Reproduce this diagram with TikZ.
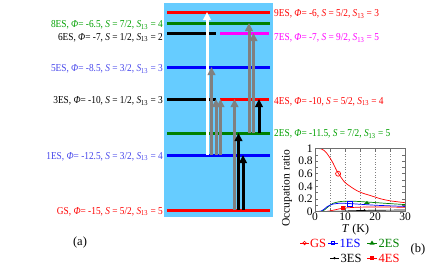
\documentclass[tikz,border=0pt]{standalone}
\usepackage{fontspec}
\setmainfont{Liberation Serif}
\newfontfamily\labfont[FakeStretch=0.88]{Liberation Serif}
\usetikzlibrary{arrows.meta}
\definecolor{skyb}{RGB}{102,204,255}
\definecolor{lvred}{RGB}{255,0,0}
\definecolor{lvgreen}{RGB}{0,128,0}
\definecolor{txgreen}{RGB}{0,160,0}
\definecolor{txblue}{RGB}{70,70,235}
\definecolor{lvblue}{RGB}{0,0,255}
\definecolor{lvmag}{RGB}{255,0,255}
\definecolor{arrgray}{RGB}{128,128,128}
\definecolor{frgray}{RGB}{110,110,110}
\begin{document}
\begin{tikzpicture}[x=1pt,y=-1pt,
  levelline/.style={line width=3pt},
  trans/.style={line width=3pt,-{Triangle[length=8pt,width=7.5pt]}},
  lab/.style={font=\labfont\fontsize{10.6}{12}\selectfont, inner sep=0pt},
  tick/.style={font=\fontsize{11.5}{12}\selectfont, inner sep=0pt},
  leg/.style={font=\fontsize{12.5}{14}\selectfont, inner sep=0pt, anchor=west},
]
\useasboundingbox (0,0) rectangle (436,274);
\fill[skyb] (164,3) rectangle (273,217);
% level coordinates
\coordinate (L9a) at (167,12);  \coordinate (L9b) at (270,12);
\coordinate (L8a) at (167,23);  \coordinate (L8b) at (270,23);
\coordinate (L6a) at (167,33);  \coordinate (L6b) at (216,33);
\coordinate (L7a) at (220,33);  \coordinate (L7b) at (269,33);
\coordinate (L5a) at (167,67);  \coordinate (L5b) at (270,67);
\coordinate (L3a) at (167,99);  \coordinate (L3b) at (216,99);
\coordinate (L4a) at (220,99);  \coordinate (L4b) at (269,99);
\coordinate (L2a) at (167,133); \coordinate (L2b) at (270,133);
\coordinate (L1a) at (167,155); \coordinate (L1b) at (270,155);
\coordinate (L0a) at (167,210); \coordinate (L0b) at (270,210);
\draw[levelline,lvred] (L9a) -- (L9b);
\draw[levelline,lvgreen] (L8a) -- (L8b);
\draw[levelline,black] (L6a) -- (L6b);
\draw[levelline,lvmag] (L7a) -- (L7b);
\draw[levelline,lvblue] (L5a) -- (L5b);
\draw[levelline,black] (L3a) -- (L3b);
\draw[levelline,lvred] (L4a) -- (L4b);
\draw[levelline,lvgreen] (L2a) -- (L2b);
\draw[levelline,lvblue] (L1a) -- (L1b);
\draw[levelline,lvred] (L0a) -- (L0b);
% arrow columns
\coordinate (c1) at (207,0);
\coordinate (c2) at (211.5,0);
\coordinate (c3) at (216,0);
\coordinate (c4) at (220.5,0);
\coordinate (c5) at (234.5,0);
\coordinate (c6) at (238.5,0);
\coordinate (c7) at (243,0);
\coordinate (c8) at (249,0);
\coordinate (c9) at (253.5,0);
\coordinate (c10) at (259,0);
\draw[trans,white] (c1 |- L1a) -- (c1 |- L9a);
\draw[trans,arrgray] (c2 |- L1a) -- (c2 |- L5a);
\draw[trans,arrgray] (c3 |- L1a) -- (c3 |- L3a);
\draw[trans,arrgray] (c4 |- L1a) -- (c4 |- L3a);
\draw[trans,arrgray] (c5 |- L0a) -- (c5 |- L3a);
\draw[trans,black] (c6 |- L0a) -- (c6 |- L2a);
\draw[trans,black] (c7 |- L0a) -- (c7 |- L1a);
\draw[trans,arrgray] (c8 |- L2a) -- (c8 |- L8a);
\draw[trans,arrgray] (c9 |- L2a) -- (c9 |- L7a);
\draw[trans,black] (c10 |- L2a) -- (c10 |- L4a);
% left labels
\node[lab,txgreen,anchor=base east] (t8) at (163,27.5) {8ES, \textit{Φ}= -6.5, \textit{S} = 7/2, \textit{S}\textsubscript{13} = 4};
\node[lab,black,anchor=base east] (t6) at (163,40) {6ES, \textit{Φ}= -7, \textit{S} = 1/2, \textit{S}\textsubscript{13} = 2};
\node[lab,txblue,anchor=base east] (t5) at (163,71.5) {5ES, \textit{Φ}= -8.5, \textit{S} = 3/2, \textit{S}\textsubscript{13} = 3};
\node[lab,black,anchor=base east] (t3) at (163,103.5) {3ES, \textit{Φ}= -10, \textit{S} = 1/2, \textit{S}\textsubscript{13} = 3};
\node[lab,txblue,anchor=base east] (t1) at (163,159) {1ES, \textit{Φ}= -12.5, \textit{S} = 3/2, \textit{S}\textsubscript{13} = 4};
\node[lab,lvred,anchor=base east] (t0) at (163,214) {GS, \textit{Φ}= -15, \textit{S} = 5/2, \textit{S}\textsubscript{13} = 5};
% right labels
\node[lab,lvred,anchor=base west] (t9) at (274,16.5) {9ES, \textit{Φ}= -6, \textit{S} = 5/2, \textit{S}\textsubscript{13} = 3};
\node[lab,lvmag,anchor=base west] (t7) at (274,40.5) {7ES, \textit{Φ}= -7, \textit{S} = 9/2, \textit{S}\textsubscript{13} = 5};
\node[lab,lvred,anchor=base west] (t4) at (274,104) {4ES, \textit{Φ}= -10, \textit{S} = 5/2, \textit{S}\textsubscript{13} = 4};
\node[lab,txgreen,anchor=base west] (t2) at (274,136.5) {2ES, \textit{Φ}= -11.5, \textit{S} = 7/2, \textit{S}\textsubscript{13} = 5};
\node[leg,anchor=center] (la) at (80,242) {(a)};
% plot (b)
\begin{scope}[shift={(315,211.5)},x=3pt,y=63pt]
  \foreach \t in {5,10,15,20,25}
    \draw[gray,dotted,line width=0.6pt] (\t,0) -- (\t,1);
  \foreach \t in {5,10,15,20,25} {
    \draw[frgray,line width=0.6pt] (\t,0) -- (\t,0.06);
    \draw[frgray,line width=0.6pt] (\t,1) -- (\t,0.94);
  }
  \foreach \p in {0.1,0.2,...,0.95} {
    \draw[frgray,line width=0.6pt] (0,\p) -- (1,\p);
    \draw[frgray,line width=0.6pt] (30,\p) -- (29,\p);
  }
  \draw[lvred,line width=0.7pt] plot[smooth] coordinates {(0,1) (1,1) (2,0.995) (3,0.97) (4,0.92) (5,0.85) (6,0.77) (7,0.67) (8,0.59) (9,0.52) (10,0.46) (12,0.39) (14,0.33) (16,0.29) (18,0.26) (20,0.23) (22,0.2) (25,0.17) (30,0.14)};
  \draw[lvgreen,line width=0.7pt] plot[smooth] coordinates {(0,0) (2,0.003) (3,0.02) (4,0.06) (5,0.1) (6,0.13) (8,0.155) (10,0.163) (13,0.163) (17,0.152) (20,0.142) (25,0.125) (30,0.11)};
  \draw[lvblue,line width=0.7pt] plot[smooth] coordinates {(0,0) (2,0.006) (3,0.035) (4,0.075) (5,0.1) (6,0.118) (8,0.13) (10,0.13) (12,0.125) (15,0.115) (20,0.1) (25,0.09) (30,0.08)};
  \draw[lvred,line width=0.7pt] plot[smooth] coordinates {(0,0) (4,0.002) (5,0.01) (7,0.03) (9,0.05) (12,0.063) (16,0.07) (20,0.071) (25,0.07) (30,0.068)};
  \draw[black,line width=0.7pt] plot[smooth] coordinates {(0,0) (5,0.001) (8,0.005) (12,0.012) (16,0.017) (20,0.02) (25,0.022) (30,0.023)};
  % markers
  \node[draw=lvred,circle,inner sep=0pt,minimum size=5pt,line width=0.7pt] (m0) at (7.7,0.6) {};
  \node[draw=lvblue,rectangle,inner sep=0pt,minimum size=5pt,line width=0.8pt] (m1) at (11.5,0.125) {};
  \fill[lvgreen] (17.3,0.165) -- (16.3,0.12) -- (18.3,0.12) -- cycle;
  \node[fill=lvred,rectangle,inner sep=0pt,minimum size=4pt] (m4) at (9.3,0.05) {};
  \node[fill=black,circle,inner sep=0pt,minimum size=2.5pt] (m3) at (16.5,0.017) {};
  % frame
  \draw[frgray,line width=1pt] (0,0) rectangle (30,1);
  % tick labels
  \foreach \p/\s in {0/0,0.2/0.2,0.4/0.4,0.6/0.6,0.8/0.8,1/1}
    \node[tick,anchor=east] at (-0.7,\p) {\s};
  \foreach \t in {0,10,20,30}
    \node[tick,anchor=north] at (\t,-0.025) {\t};
  \node[tick,font=\fontsize{12}{13}\selectfont,anchor=north] (xl) at (13.5,-0.19) {\textit{T} (K)};
  \node[tick,rotate=90] (yl) at (-9.3,0.37) {Occupation ratio};
\end{scope}
% legend
\draw[lvred,line width=0.7pt] (300,243) -- (309,243);
\node[draw=lvred,circle,inner sep=0pt,minimum size=3.5pt,line width=0.7pt] (g0) at (304.5,243) {};
\node[leg,lvred] (lg0) at (310,243.5) {GS};
\draw[lvblue,line width=0.7pt] (328,243) -- (338,243);
\node[draw=lvblue,inner sep=0pt,minimum size=3.5pt,line width=0.7pt] (g1) at (333,243) {};
\node[leg,lvblue] (lg1) at (339.5,243.5) {1ES};
\draw[lvgreen,line width=0.7pt] (367,243) -- (377,243);
\fill[lvgreen] (372,240.5) -- (369.5,244.5) -- (374.5,244.5) -- cycle;
\node[leg,lvgreen] (lg2) at (378.5,243.5) {2ES};
\draw[black,line width=0.7pt] (330,258) -- (339,258);
\node[fill=black,circle,inner sep=0pt,minimum size=2.5pt] (g3) at (334.5,258) {};
\node[leg,black] (lg3) at (340.5,258.5) {3ES};
\draw[lvred,line width=0.7pt] (367,258) -- (377,258);
\node[fill=lvred,inner sep=0pt,minimum size=3.5pt] (g4) at (372,258) {};
\node[leg,lvred] (lg4) at (378.5,258.5) {4ES};
\node[leg,anchor=center] (lb) at (418,249) {(b)};
\end{tikzpicture}
\end{document}
